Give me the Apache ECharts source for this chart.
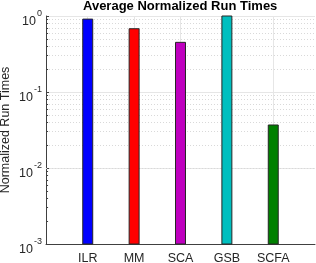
<!DOCTYPE html>
<html><head><meta charset="utf-8">
<script src="https://cdn.jsdelivr.net/npm/echarts@6/dist/echarts.min.js"></script>
<style>html,body{margin:0;padding:0;background:#fff}#c{width:316px;height:263px}</style>
</head><body><div id="c"></div>
<script>
const categories = ['ILR', 'MM', 'SCA', 'GSB', 'SCFA'];
const values = [0.91, 0.68, 0.45, 1.0, 0.0368];
const barColors = ['#0000ff', '#ff0000', '#bf00bf', '#00bfbf', '#008000'];
const yMin = 0.001, yMax = 1;
const xMin = 0.1, xMax = 5.9;
const minorTicks = [];
for (let e = -3; e < 0; e++) for (let m = 2; m <= 9; m++) minorTicks.push(+(m * Math.pow(10, e)).toPrecision(3));
const catPositions = [1, 2, 3, 4, 5];
const FONT = 'Liberation Sans';

const chart = echarts.init(document.getElementById('c'), null, {renderer: 'canvas'});
const data = categories.map((c, i) => [catPositions[i], values[i]]);
const gridLines = minorTicks.map(t => ({yAxis: t}))
  .concat(catPositions.map(p => ({xAxis: p, lineStyle: {type: 'solid', color: '#e6e6e6'}})));
const minorTickMarks = minorTicks.map(t => [
  {coord: [xMin, t], lineStyle: {type: 'solid', color: '#404040', width: 1}},
  {coord: [xMin + 0.045, t]}
]);
chart.setOption({
  animation: false,
  title: {text: 'Average Normalized Run Times', left: 83, top: 0, padding: 0, textAlign: 'left',
    textStyle: {fontFamily: FONT, fontSize: 13, fontWeight: 'bold', color: '#000'}},
  grid: {left: 46, right: 1, top: 16, bottom: 19, containLabel: false, outerBoundsMode: 'none'},
  xAxis: {type: 'value', min: xMin, max: xMax,
    axisLine: {show: true, lineStyle: {color: '#404040', width: 1}},
    axisTick: {show: true, inside: true, length: 3, customValues: catPositions, lineStyle: {color: '#404040'}},
    axisLabel: {customValues: catPositions, formatter: v => categories[Math.round(v) - 1] || '',
      fontFamily: FONT, fontSize: 12.5, color: '#262626', margin: 8},
    splitLine: {show: false}
  },
  yAxis: {type: 'log', logBase: 10, min: yMin, max: yMax,
    name: 'Normalized Run Times', nameLocation: 'middle', nameGap: 34, nameMoveOverlap: false,
    nameTextStyle: {fontFamily: FONT, fontSize: 12.5, color: '#262626'},
    axisLine: {show: true, lineStyle: {color: '#404040', width: 1}},
    axisTick: {show: true, inside: true, length: 3, lineStyle: {color: '#404040'}},
    axisLabel: {margin: 4, formatter: v => '{b|10}{s|' + Math.round(Math.log10(v)) + '}',
      rich: {b: {fontFamily: FONT, fontSize: 12.5, color: '#262626', padding: [11, 0, 0, 0], verticalAlign: 'bottom'},
             s: {fontFamily: FONT, fontSize: 9, color: '#262626', padding: [5, 0, 0, 1], verticalAlign: 'top'}}},
    splitLine: {show: true, lineStyle: {color: '#e6e6e6', width: 1}},
    minorTick: {show: false}
  },
  series: [{
    type: 'custom', data: data, z: 5,
    renderItem: function (params, api) {
      const x = api.value(0), v = api.value(1);
      const top = api.coord([x, v]);
      const bot = api.coord([x, yMin]);
      const w = api.size([1, 0])[0] * 0.215;
      return {type: 'rect', shape: {x: top[0] - w / 2, y: top[1], width: w, height: bot[1] - top[1]},
        style: {fill: barColors[params.dataIndex], stroke: '#262626', lineWidth: 1}};
    },
    markLine: {silent: true, symbol: 'none', label: {show: false}, z: 1,
      lineStyle: {color: '#d9d9d9', type: [1, 2], width: 1},
      data: gridLines.concat(minorTickMarks)
    }
  }]
});
</script></body></html>
